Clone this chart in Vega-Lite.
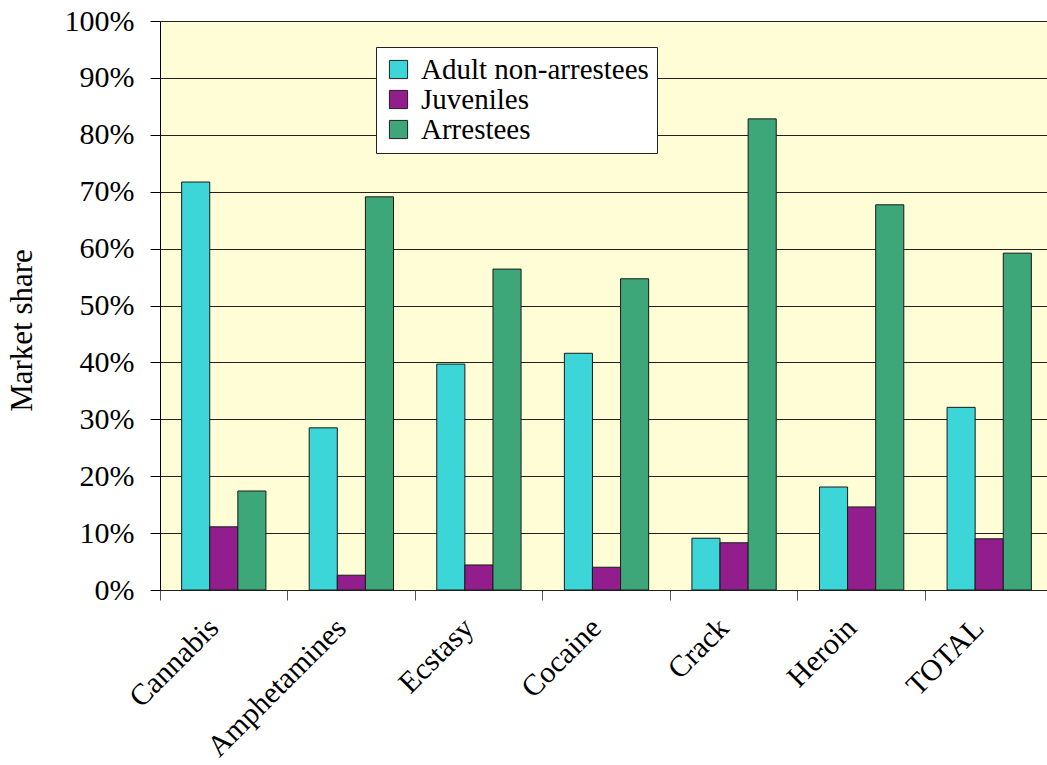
{
  "$schema": "https://vega.github.io/schema/vega-lite/v6.json",
  "width": 893,
  "height": 569,
  "autosize": {"type": "none"},
  "padding": {"left": 160, "top": 21, "right": 0, "bottom": 175},
  "background": "white",
  "config": {
    "view": {"fill": "#FFFDD5", "stroke": "#222", "strokeWidth": 1},
    "font": "Liberation Serif"
  },
  "data": {
    "values": [
      {"drug": "Cannabis", "group": "Adult non-arrestees", "share": 0.717},
      {"drug": "Cannabis", "group": "Juveniles", "share": 0.111},
      {"drug": "Cannabis", "group": "Arrestees", "share": 0.174},
      {"drug": "Amphetamines", "group": "Adult non-arrestees", "share": 0.285},
      {"drug": "Amphetamines", "group": "Juveniles", "share": 0.026},
      {"drug": "Amphetamines", "group": "Arrestees", "share": 0.691},
      {"drug": "Ecstasy", "group": "Adult non-arrestees", "share": 0.397},
      {"drug": "Ecstasy", "group": "Juveniles", "share": 0.044},
      {"drug": "Ecstasy", "group": "Arrestees", "share": 0.564},
      {"drug": "Cocaine", "group": "Adult non-arrestees", "share": 0.416},
      {"drug": "Cocaine", "group": "Juveniles", "share": 0.04},
      {"drug": "Cocaine", "group": "Arrestees", "share": 0.547},
      {"drug": "Crack", "group": "Adult non-arrestees", "share": 0.091},
      {"drug": "Crack", "group": "Juveniles", "share": 0.083},
      {"drug": "Crack", "group": "Arrestees", "share": 0.828},
      {"drug": "Heroin", "group": "Adult non-arrestees", "share": 0.181},
      {"drug": "Heroin", "group": "Juveniles", "share": 0.146},
      {"drug": "Heroin", "group": "Arrestees", "share": 0.677},
      {"drug": "TOTAL", "group": "Adult non-arrestees", "share": 0.321},
      {"drug": "TOTAL", "group": "Juveniles", "share": 0.09},
      {"drug": "TOTAL", "group": "Arrestees", "share": 0.592}
    ]
  },
  "mark": {"type": "bar", "stroke": "#1a1a1a", "strokeWidth": 1},
  "encoding": {
    "x": {
      "field": "drug",
      "type": "nominal",
      "sort": null,
      "scale": {"paddingInner": 0, "paddingOuter": 0},
      "axis": {
        "title": null,
        "bandPosition": 0,
        "labelAngle": -45,
        "labelAlign": "right",
        "labelBaseline": "middle",
        "labelFont": "Liberation Serif",
        "labelFontSize": 30,
        "labelColor": "#000",
        "labelPadding": 23,
        "labelOffset": -10,
        "labelLimit": 0,
        "tickSize": 10,
        "tickColor": "#555",
        "domainColor": "#222",
        "grid": false
      }
    },
    "xOffset": {
      "field": "group",
      "type": "nominal",
      "sort": ["Adult non-arrestees", "Juveniles", "Arrestees"],
      "scale": {"paddingInner": 0, "paddingOuter": 0.77}
    },
    "y": {
      "field": "share",
      "type": "quantitative",
      "scale": {"domain": [0, 1], "nice": false},
      "axis": {
        "title": "Market share",
        "titleFont": "Liberation Serif",
        "titleFontSize": 31,
        "titleFontWeight": "normal",
        "titleColor": "#000",
        "titlePadding": 26,
        "titleY": 309,
        "values": [0, 0.1, 0.2, 0.3, 0.4, 0.5, 0.6, 0.7, 0.8, 0.9, 1],
        "format": ".0%",
        "labelFont": "Liberation Serif",
        "labelFontSize": 30,
        "labelColor": "#000",
        "labelPadding": 16,
        "tickSize": 10,
        "tickColor": "#000",
        "domainColor": "#000",
        "grid": true,
        "gridColor": "#222",
        "gridWidth": 1,
        "gridOpacity": 1
      }
    },
    "color": {
      "field": "group",
      "type": "nominal",
      "sort": ["Adult non-arrestees", "Juveniles", "Arrestees"],
      "scale": {
        "domain": ["Adult non-arrestees", "Juveniles", "Arrestees"],
        "range": ["#3CD5D8", "#921E8E", "#3EA77A"]
      },
      "legend": {
        "title": null,
        "orient": "none",
        "legendX": 216,
        "legendY": 26,
        "symbolType": "square",
        "symbolSize": 330,
        "symbolStrokeColor": "#222",
        "symbolStrokeWidth": 1,
        "symbolOpacity": 1,
        "labelFont": "Liberation Serif",
        "labelFontSize": 29,
        "labelColor": "#000",
        "labelLimit": 0,
        "labelOffset": 8,
        "rowPadding": 0,
        "fillColor": "white",
        "strokeColor": "#222",
        "padding": 8
      }
    }
  }
}
